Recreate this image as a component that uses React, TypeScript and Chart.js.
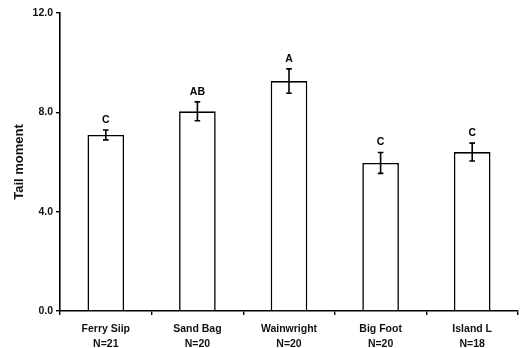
import React, { useEffect, useRef } from "react";
import { Chart, registerables } from "chart.js";

Chart.register(...registerables);

const categories = ["Ferry Siip", "Sand Bag", "Wainwright", "Big Foot", "Island L"];
const sampleSizes = ["N=21", "N=20", "N=20", "N=20", "N=18"];
const means = [7.09, 8.04, 9.26, 5.96, 6.4];
const errors = [0.2, 0.38, 0.49, 0.42, 0.36];
const groupLetters = ["C", "AB", "A", "C", "C"];
const yTicks = [0, 4, 8, 12];

const FONT = "'Liberation Sans', Arial, sans-serif";

const errorBarPlugin = {
  id: "errorBars",
  afterDatasetsDraw(chart: any) {
    const ctx = chart.ctx;
    const y = chart.scales.y;
    const meta = chart.getDatasetMeta(0);
    ctx.save();
    ctx.strokeStyle = "#000";
    ctx.lineWidth = 1.6;
    ctx.fillStyle = "#000";
    ctx.font = `bold 10.5px ${FONT}`;
    ctx.textAlign = "center";
    ctx.textBaseline = "middle";
    meta.data.forEach((bar: any, i: number) => {
      const x = bar.x;
      const yTop = y.getPixelForValue(means[i] + errors[i]);
      const yBot = y.getPixelForValue(means[i] - errors[i]);
      const cap = 2.8;
      ctx.beginPath();
      ctx.moveTo(x, yTop);
      ctx.lineTo(x, yBot);
      ctx.moveTo(x - cap, yTop);
      ctx.lineTo(x + cap, yTop);
      ctx.moveTo(x - cap, yBot);
      ctx.lineTo(x + cap, yBot);
      ctx.stroke();
      ctx.fillText(groupLetters[i], x, yTop - 10);
    });
    ctx.restore();
  },
};

export default function App() {
  const ref = useRef<HTMLCanvasElement>(null);
  useEffect(() => {
    const canvas = ref.current!;
    const chart = new Chart(canvas, {
      type: "bar",
      data: {
        labels: categories.map((c, i) => [c, sampleSizes[i]]),
        datasets: [
          {
            data: means,
            backgroundColor: "#fff",
            borderColor: "#000",
            borderWidth: 1.6,
            borderSkipped: "bottom",
            categoryPercentage: 1,
            barPercentage: 0.4,
          },
        ],
      },
      options: {
        responsive: false,
        animation: false,
        events: [],
        layout: { padding: { left: 0, right: 5, top: 13, bottom: 0 } },
        plugins: {
          legend: { display: false },
          tooltip: { enabled: false },
        },
        scales: {
          x: {
            afterFit: (s: any) => {
              s.height = 37;
            },
            border: { color: "#000", width: 1.6 },
            grid: {
              offset: true,
              drawOnChartArea: false,
              drawTicks: true,
              tickLength: 4,
              color: "#000",
              lineWidth: 1.4,
            },
            ticks: {
              color: "#111",
              font: { family: FONT, size: 10.5, weight: "bold", lineHeight: 1.4 },
              padding: 7,
              maxRotation: 0,
              autoSkip: false,
            },
          },
          y: {
            min: 0,
            max: 12,
            afterFit: (s: any) => {
              s.width = 60;
            },
            afterBuildTicks: (s: any) => {
              s.ticks = yTicks.map((v) => ({ value: v }));
            },
            border: { color: "#000", width: 1.6 },
            grid: {
              drawOnChartArea: false,
              drawTicks: true,
              tickLength: 4,
              color: "#000",
              lineWidth: 1.4,
            },
            ticks: {
              color: "#111",
              font: { family: FONT, size: 10.5, weight: "bold" },
              padding: 3,
              callback: (v: any) => Number(v).toFixed(1),
            },
            title: {
              display: true,
              text: "Tail moment",
              color: "#111",
              font: { family: FONT, size: 13, weight: "bold" },
              padding: { top: 12, bottom: 0 },
            },
          },
        },
      },
      plugins: [errorBarPlugin],
    });
    return () => chart.destroy();
  }, []);
  return (
    <div style={{ position: "fixed", left: 0, top: 0, width: 523, height: 348, background: "#fff" }}>
      <canvas ref={ref} width={523} height={348} />
    </div>
  );
}
